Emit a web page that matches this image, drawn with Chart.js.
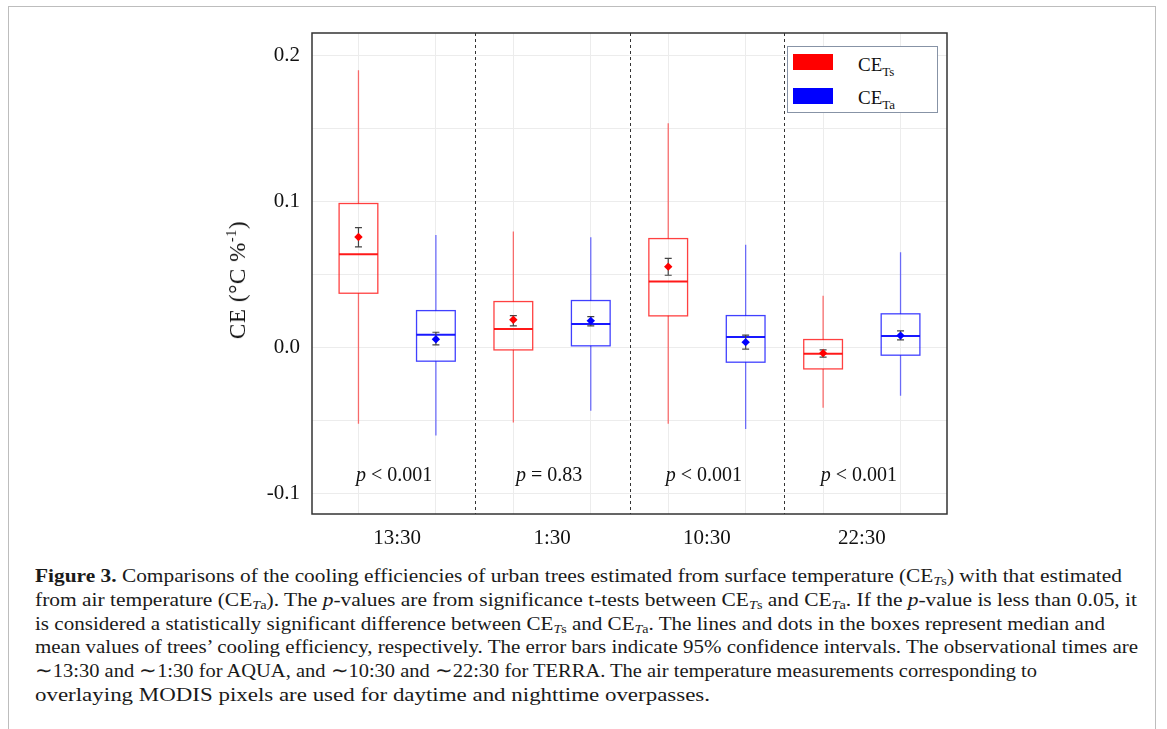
<!DOCTYPE html>
<html>
<head>
<meta charset="utf-8">
<script src="https://cdn.jsdelivr.net/npm/chart.js@4.4.1/dist/chart.umd.min.js"></script>
<style>
  html, body { margin:0; padding:0; background:#fff; width:1167px; height:729px; overflow:hidden; }
  body { position:relative; font-family:'Liberation Serif','Times New Roman',serif; color:#111; }
  #frame { position:absolute; left:8px; top:6px; width:1148px; height:760px; border:1.5px solid #bdbdbd; border-bottom:none; box-sizing:border-box; }
  #chart { position:absolute; left:0; top:0; }
  #ytitle { position:absolute; left:238px; top:280px; transform:translate(-50%,-50%) rotate(-90deg); white-space:nowrap; font-size:23px; letter-spacing:0.6px; color:#111; }
  #ytitle sup { font-size:14px; vertical-align:9px; line-height:0; }
  #legend { position:absolute; left:787px; top:46px; width:151px; height:67px; border:1px solid #8793a6; box-sizing:border-box; background:#fff; }
  .sw { position:absolute; left:5px; width:40px; height:16px; }
  .lt { position:absolute; left:70px; font-size:19px; line-height:19px; white-space:nowrap; color:#111; }
  .lt sub { font-size:13px; vertical-align:-5px; line-height:0; }
  #caption { position:absolute; left:35px; top:564px; font-size:19.5px; line-height:23.8px; color:#1a1a1a; }
  #caption div { white-space:nowrap; transform-origin:0 50%; width:max-content; }
  #caption sub { font-size:13px; vertical-align:-3px; line-height:0; }
</style>
</head>
<body>
<div id="frame"></div>
<canvas id="chart" width="1167" height="560"></canvas>
<div id="ytitle">CE (°C %<sup>-1</sup>)</div>
<div id="legend">
  <div class="sw" style="top:7px;background:#ff0000;"></div>
  <div class="lt" style="top:8px;">CE<sub>Ts</sub></div>
  <div class="sw" style="top:41px;background:#0000ff;"></div>
  <div class="lt" style="top:41px;">CE<sub>Ta</sub></div>
</div>
<div id="caption">
  <div data-w="1087"><b>Figure 3.</b> Comparisons of the cooling efficiencies of urban trees estimated from surface temperature (CE<sub><i>T</i>s</sub>) with that estimated</div>
  <div data-w="1102">from air temperature (CE<sub><i>T</i>a</sub>). The <i>p</i>-values are from significance t-tests between CE<sub><i>T</i>s</sub> and CE<sub><i>T</i>a</sub>. If the <i>p</i>-value is less than 0.05, it</div>
  <div data-w="1070">is considered a statistically significant difference between CE<sub><i>T</i>s</sub> and CE<sub><i>T</i>a</sub>. The lines and dots in the boxes represent median and</div>
  <div data-w="1103">mean values of trees’ cooling efficiency, respectively. The error bars indicate 95% confidence intervals. The observational times are</div>
  <div data-w="1002">∼13:30 and ∼1:30 for AQUA, and ∼10:30 and ∼22:30 for TERRA. The air temperature measurements corresponding to</div>
  <div data-w="675">overlaying MODIS pixels are used for daytime and nighttime overpasses.</div>
</div>
<script>
// ---- data ----
const categories = ['13:30', '1:30', '10:30', '22:30'];
const pValueLabels = ['< 0.001', '= 0.83', '< 0.001', '< 0.001'];
const yTickValues = [-0.1, -0.05, 0, 0.05, 0.1, 0.15, 0.2];

// CE_Ts (surface temperature)
const tsMin    = [-0.052, -0.051, -0.052, -0.041];
const tsQ1     = [0.0374, -0.0014, 0.0219, -0.0144];
const tsMedian = [0.0641, 0.0130, 0.0454, -0.0041];
const tsQ3     = [0.0988, 0.0317, 0.0748, 0.0057];
const tsMax    = [0.190, 0.0796, 0.1537, 0.0356];
const tsMean   = [0.0759, 0.0192, 0.0556, -0.0036];
const tsCiLow  = [0.0691, 0.0150, 0.0497, -0.0064];
const tsCiHigh = [0.0823, 0.0221, 0.0613, -0.0014];

// CE_Ta (air temperature)
const taMin    = [-0.060, -0.043, -0.0556, -0.0328];
const taQ1     = [-0.0091, 0.0014, -0.0098, -0.0050];
const taMedian = [0.0089, 0.0164, 0.0075, 0.0082];
const taQ3     = [0.0255, 0.0324, 0.0221, 0.0233];
const taMax    = [0.0773, 0.0757, 0.0705, 0.0655];
const taMean   = [0.0059, 0.0185, 0.0039, 0.0084];
const taCiLow  = [0.0021, 0.0150, -0.0009, 0.0055];
const taCiHigh = [0.0107, 0.0214, 0.0087, 0.0116];

// ---- layout helpers ----
const DODGE = 0.25, BOXW = 0.25;
const groups = [
  { off: -DODGE, rgb: '255,0,0',  min: tsMin, q1: tsQ1, med: tsMedian, q3: tsQ3, max: tsMax, lo: tsCiLow, hi: tsCiHigh },
  { off:  DODGE, rgb: '0,0,255',  min: taMin, q1: taQ1, med: taMedian, q3: taQ3, max: taMax, lo: taCiLow, hi: taCiHigh }
];
const xTickValues = [];
categories.forEach((c, i) => { xTickValues.push(i + 1 - DODGE, i + 1, i + 1 + DODGE); });
const separators = categories.slice(1).map((c, i) => i + 1.5);
const FONT = "'Liberation Serif','Times New Roman',serif";

const boxPlugin = {
  id: 'boxes',
  beforeDatasetsDraw(chart) {
    const { ctx, scales: { x, y }, chartArea: a } = chart;
    ctx.save();
    ctx.strokeStyle = '#333'; ctx.lineWidth = 1; ctx.setLineDash([3, 3]);
    separators.forEach(s => {
      const px = Math.round(x.getPixelForValue(s)) + 0.5;
      ctx.beginPath(); ctx.moveTo(px, a.top); ctx.lineTo(px, a.bottom); ctx.stroke();
    });
    ctx.setLineDash([]);
    groups.forEach(g => {
      categories.forEach((c, i) => {
        const cx = x.getPixelForValue(i + 1 + g.off);
        const xl = x.getPixelForValue(i + 1 + g.off - BOXW / 2);
        const xr = x.getPixelForValue(i + 1 + g.off + BOXW / 2);
        const yq1 = y.getPixelForValue(g.q1[i]), yq3 = y.getPixelForValue(g.q3[i]);
        ctx.strokeStyle = 'rgba(' + g.rgb + ',0.55)'; ctx.lineWidth = 1.3;
        ctx.beginPath();
        ctx.moveTo(cx, y.getPixelForValue(g.max[i])); ctx.lineTo(cx, yq3);
        ctx.moveTo(cx, yq1); ctx.lineTo(cx, y.getPixelForValue(g.min[i]));
        ctx.stroke();
        ctx.strokeStyle = 'rgba(' + g.rgb + ',0.75)'; ctx.lineWidth = 1.3;
        ctx.strokeRect(xl, yq3, xr - xl, yq1 - yq3);
        ctx.strokeStyle = 'rgba(' + g.rgb + ',0.9)'; ctx.lineWidth = 2;
        const ym = y.getPixelForValue(g.med[i]);
        ctx.beginPath(); ctx.moveTo(xl, ym); ctx.lineTo(xr, ym); ctx.stroke();
        const ylo = y.getPixelForValue(g.lo[i]), yhi = y.getPixelForValue(g.hi[i]);
        ctx.strokeStyle = '#444'; ctx.lineWidth = 1.2;
        ctx.beginPath();
        ctx.moveTo(cx, yhi); ctx.lineTo(cx, ylo);
        ctx.moveTo(cx - 3.5, yhi); ctx.lineTo(cx + 3.5, yhi);
        ctx.moveTo(cx - 3.5, ylo); ctx.lineTo(cx + 3.5, ylo);
        ctx.stroke();
      });
    });
    ctx.restore();
  },
  afterDraw(chart) {
    const { ctx, scales: { x }, chartArea: a } = chart;
    ctx.save();
    ctx.strokeStyle = '#333'; ctx.lineWidth = 1.5;
    ctx.strokeRect(a.left, a.top, a.right - a.left, a.bottom - a.top);
    ctx.fillStyle = '#111'; ctx.textBaseline = 'alphabetic';
    categories.forEach((c, i) => {
      const cx = x.getPixelForValue(i + 1) - 3;
      ctx.font = 'italic 20px ' + FONT;
      const wp = ctx.measureText('p').width;
      ctx.font = '20px ' + FONT;
      const rest = ' ' + pValueLabels[i];
      const wr = ctx.measureText(rest).width;
      const x0 = cx - (wp + wr) / 2;
      ctx.font = 'italic 20px ' + FONT; ctx.textAlign = 'left';
      ctx.fillText('p', x0, 481);
      ctx.font = '20px ' + FONT;
      ctx.fillText(rest, x0 + wp, 481);
    });
    ctx.restore();
  }
};

const meanDatasets = [
  { label: 'CE_Ts mean', data: tsMean.map((v, i) => ({ x: i + 1 - DODGE, y: v })), backgroundColor: '#ff0000', borderColor: '#ff0000' },
  { label: 'CE_Ta mean', data: taMean.map((v, i) => ({ x: i + 1 + DODGE, y: v })), backgroundColor: '#0000ff', borderColor: '#0000ff' }
].map(d => Object.assign(d, { type: 'scatter', pointStyle: 'rectRot', pointRadius: 4.2, borderWidth: 0 }));

new Chart(document.getElementById('chart'), {
  type: 'scatter',
  data: { datasets: meanDatasets },
  plugins: [boxPlugin],
  options: {
    responsive: false,
    animation: false,
    layout: { padding: { top: 33, right: 220, left: 0, bottom: 0 } },
    plugins: { legend: { display: false }, tooltip: { enabled: false } },
    scales: {
      x: {
        type: 'linear', min: 0.45, max: 4.55,
        afterFit: s => { s.height = 46; },
        afterBuildTicks: s => { s.ticks = xTickValues.map(v => ({ value: v })); },
        border: { display: false },
        grid: { drawTicks: false, color: ctx => (ctx.tick && Number.isInteger(ctx.tick.value)) ? 'rgba(0,0,0,0)' : '#ececec', lineWidth: 1 },
        ticks: {
          padding: 12, color: '#111', font: { family: FONT, size: 21 }, maxRotation: 0, autoSkip: false,
          callback: v => Number.isInteger(v) ? categories[v - 1] : ''
        }
      },
      y: {
        type: 'linear', min: -0.1137, max: 0.2155,
        afterFit: s => { s.width = 312; },
        afterBuildTicks: s => { s.ticks = yTickValues.map(v => ({ value: v })); },
        border: { display: false },
        grid: { drawTicks: false, color: '#ececec', lineWidth: 1 },
        ticks: {
          padding: 12, color: '#111', font: { family: FONT, size: 21 }, autoSkip: false,
          callback: v => (Math.abs(Math.round(v * 10) - v * 10) < 1e-6) ? v.toFixed(1) : ''
        }
      }
    }
  }
});

// stretch each caption line to the width it has in the figure
function fitCaption() {
  document.querySelectorAll('#caption div').forEach(d => {
    d.style.transform = 'none';
    const w = d.getBoundingClientRect().width;
    const target = parseFloat(d.dataset.w);
    if (w > 0) d.style.transform = 'scaleX(' + (target / w) + ')';
  });
}
fitCaption();
if (document.fonts && document.fonts.ready) document.fonts.ready.then(fitCaption);
</script>
</body>
</html>
